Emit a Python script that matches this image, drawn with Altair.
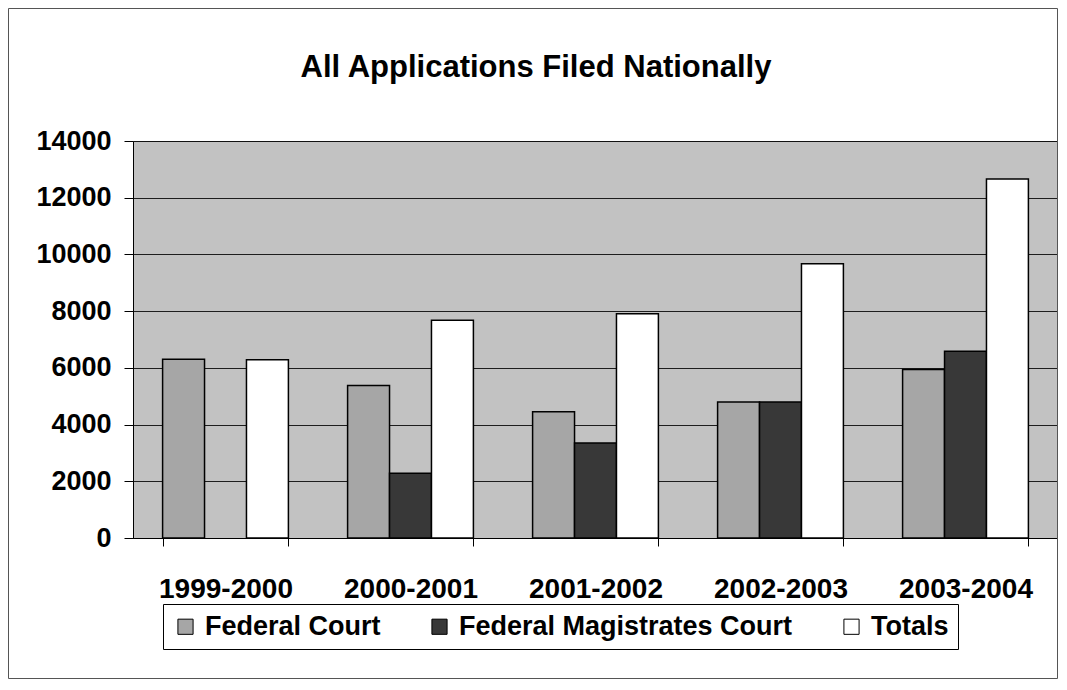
import altair as alt
import pandas as pd

years = ["1999-2000", "2000-2001", "2001-2002", "2002-2003", "2003-2004"]
federal_court = [6300, 5380, 4450, 4800, 5940]
federal_magistrates = [None, 2280, 3350, 4800, 6590]
totals = [6290, 7680, 7910, 9670, 12660]
series = ["Federal Court", "Federal Magistrates Court", "Totals"]
colors = ["#a6a6a6", "#383838", "#ffffff"]
title_text = "All Applications Filed Nationally"

rows = []
for i, y in enumerate(years):
    for s, vals in zip(series, [federal_court, federal_magistrates, totals]):
        if vals[i] is not None:
            rows.append({"year": y, "series": s, "value": vals[i]})
df = pd.DataFrame(rows)

FONT = "Liberation Sans"

bars = alt.Chart(df).mark_bar(stroke="black", strokeWidth=1.5).encode(
    x=alt.X("year:N", sort=years, title=None,
            scale=alt.Scale(paddingInner=0.32, paddingOuter=0.16),
            axis=alt.Axis(labelAngle=0, labelFont=FONT, labelFontSize=28, labelFontWeight="bold",
                          labelColor="black", tickColor="black", tickSize=8, tickBand="extent",
                          domainColor="black", labelPadding=29, grid=False)),
    xOffset=alt.XOffset("series:N", sort=series, scale=alt.Scale(paddingInner=0, paddingOuter=0)),
    y=alt.Y("value:Q", title=None,
            scale=alt.Scale(domain=[0, 14000], nice=False),
            axis=alt.Axis(values=list(range(0, 14001, 2000)), format="d", labelFont=FONT, labelFontSize=27,
                          labelFontWeight="bold", labelColor="black", tickColor="black", tickSize=9,
                          domainColor="black", labelPadding=13, gridColor="black", gridOpacity=0.85,
                          gridWidth=1)),
    color=alt.Color("series:N", sort=series, scale=alt.Scale(domain=series, range=colors),
                    legend=alt.Legend(title=None, orient="none", direction="horizontal",
                                      legendX=30, legendY=463, strokeColor="black", padding=9,
                                      labelFont=FONT, labelFontSize=27, labelFontWeight="bold",
                                      labelColor="black", symbolType="square", symbolSize=230,
                                      symbolStrokeColor="black", symbolStrokeWidth=1, labelLimit=600,
                                      columnPadding=45, labelOffset=6, fillColor="white")),
)

frame = alt.Chart(pd.DataFrame({"a": [0]})).mark_rect(
    fill="white", fillOpacity=0, stroke="#555555", strokeWidth=1, clip=False
).encode(x=alt.value(-124.5), x2=alt.value(924.5), y=alt.value(-132.5), y2=alt.value(537.5))

title = alt.Chart(pd.DataFrame({"t": [title_text]})).mark_text(
    font=FONT, fontSize=31, fontWeight="bold", color="black", align="center", baseline="middle", clip=False
).encode(text="t:N", x=alt.value(403), y=alt.value(-73))

chart = alt.layer(frame, title, bars).properties(
    width=925, height=397,
    autosize=alt.AutoSizeParams(type="none"),
    padding={"left": 125, "top": 133, "right": 0, "bottom": 141},
    view=alt.ViewBackground(fill="#c2c2c2", stroke="#777777"),
).configure(background="white")

chart.save("out.html", embed_options={"renderer": "svg", "actions": False})
